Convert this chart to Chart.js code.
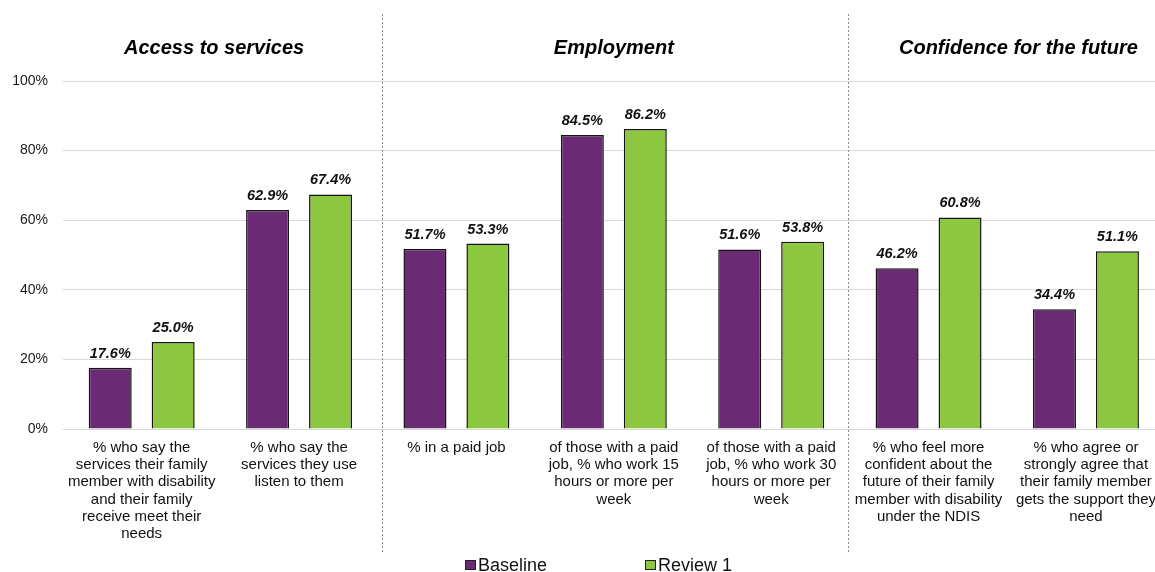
<!DOCTYPE html>
<html>
<head>
<meta charset="utf-8">
<script src="https://cdn.jsdelivr.net/npm/chart.js@4/dist/chart.umd.min.js"></script>
<style>
  html, body { margin: 0; padding: 0; overflow: hidden; background: #fff; }
  #wrap { position: relative; width: 1166px; height: 572px; }
</style>
</head>
<body>
<div id="wrap"><canvas id="c"></canvas></div>
<script>
const categories = [
  ["% who say the", "services their family", "member with disability", "and their family", "receive meet their", "needs"],
  ["% who say the", "services they use", "listen to them"],
  ["% in a paid job"],
  ["of those with a paid", "job, % who work 15", "hours or more per", "week"],
  ["of those with a paid", "job, % who work 30", "hours or more per", "week"],
  ["% who feel more", "confident about the", "future of their family", "member with disability", "under the NDIS"],
  ["% who agree or", "strongly agree that", "their family member", "gets the support they", "need"]
];
const seriesNames = ["Baseline", "Review 1"];
const baseline = [17.6, 62.9, 51.7, 84.5, 51.6, 46.2, 34.4];
const review1 = [25.0, 67.4, 53.3, 86.2, 53.8, 60.8, 51.1];
const yTicks = [0, 20, 40, 60, 80, 100];
const sectionTitles = ["Access to services", "Employment", "Confidence for the future"];
const sectionTitlePos = [0.46, 3.0, 5.571];
const separatorPos = [1.53, 4.49];

const PURPLE = '#6B2A74';
const GREEN = '#8DC63F';
const FONT = "'Liberation Sans', Arial, sans-serif";

const decorPlugin = {
  id: 'decor',
  afterDatasetsDraw(chart) {
    const ctx = chart.ctx;
    const x = chart.scales.x;
    // value labels
    ctx.save();
    ctx.font = "italic bold 14.5px " + FONT;
    ctx.fillStyle = '#111';
    ctx.textAlign = 'center';
    ctx.textBaseline = 'alphabetic';
    chart.data.datasets.forEach((ds, di) => {
      const meta = chart.getDatasetMeta(di);
      meta.data.forEach((bar, i) => {
        ctx.fillText(ds.data[i].toFixed(1) + '%', bar.x, bar.y - 10);
      });
    });
    ctx.restore();
    // section titles
    ctx.save();
    ctx.font = "italic bold 20px " + FONT;
    ctx.fillStyle = '#000';
    ctx.textAlign = 'center';
    ctx.textBaseline = 'alphabetic';
    sectionTitles.forEach((t, i) => {
      ctx.fillText(t, x.getPixelForValue(sectionTitlePos[i]), 54);
    });
    ctx.restore();
    // separators
    ctx.save();
    ctx.strokeStyle = '#8a8a8a';
    ctx.lineWidth = 1;
    ctx.setLineDash([2, 2]);
    separatorPos.forEach(p => {
      const px = Math.round(x.getPixelForValue(p)) + 0.5;
      ctx.beginPath();
      ctx.moveTo(px, 14);
      ctx.lineTo(px, 552);
      ctx.stroke();
    });
    ctx.restore();
    // legend
    ctx.save();
    ctx.font = "18px " + FONT;
    ctx.textBaseline = 'alphabetic';
    ctx.textAlign = 'left';
    const legendX = [465, 645];
    chart.data.datasets.forEach((ds, i) => {
      const lx = legendX[i];
      ctx.fillStyle = ds.backgroundColor;
      ctx.fillRect(lx, 560, 10, 10);
      ctx.strokeStyle = '#222';
      ctx.lineWidth = 1;
      ctx.strokeRect(lx + 0.5, 560.5, 10, 9);
      ctx.fillStyle = '#111';
      ctx.fillText(ds.label, lx + 13, 571);
    });
    ctx.restore();
  }
};

new Chart(document.getElementById('c'), {
  type: 'bar',
  data: {
    labels: categories,
    datasets: [
      { label: seriesNames[0], data: baseline, backgroundColor: PURPLE, borderColor: '#151515', borderWidth: 1.5 },
      { label: seriesNames[1], data: review1, backgroundColor: GREEN, borderColor: '#151515', borderWidth: 1.5 }
    ]
  },
  options: {
    responsive: true,
    maintainAspectRatio: false,
    animation: false,
    events: [],
    layout: { padding: { top: 81, left: 0, right: 0, bottom: 0 } },
    datasets: { bar: { categoryPercentage: 0.8, barPercentage: 0.683 } },
    plugins: { legend: { display: false }, tooltip: { enabled: false } },
    scales: {
      x: {
        grid: { display: false, drawTicks: false },
        border: { display: true, color: '#d9d9d9', width: 1 },
        ticks: {
          autoSkip: false, maxRotation: 0, minRotation: 0, padding: 10,
          color: '#111',
          font: { family: FONT, size: 15, lineHeight: 1.15 }
        },
        afterFit(s) { s.height = 143; }
      },
      y: {
        min: 0, max: 100,
        afterBuildTicks(s) { s.ticks = yTicks.map(v => ({ value: v })); },
        grid: { color: '#d9d9d9', drawTicks: false, lineWidth: 1 },
        border: { display: false },
        ticks: {
          padding: 15,
          color: '#1a1a1a',
          font: { family: FONT, size: 14 },
          callback: v => v + '%'
        },
        afterFit(s) { s.width = 63; }
      }
    }
  },
  plugins: [decorPlugin]
});
</script>
</body>
</html>
